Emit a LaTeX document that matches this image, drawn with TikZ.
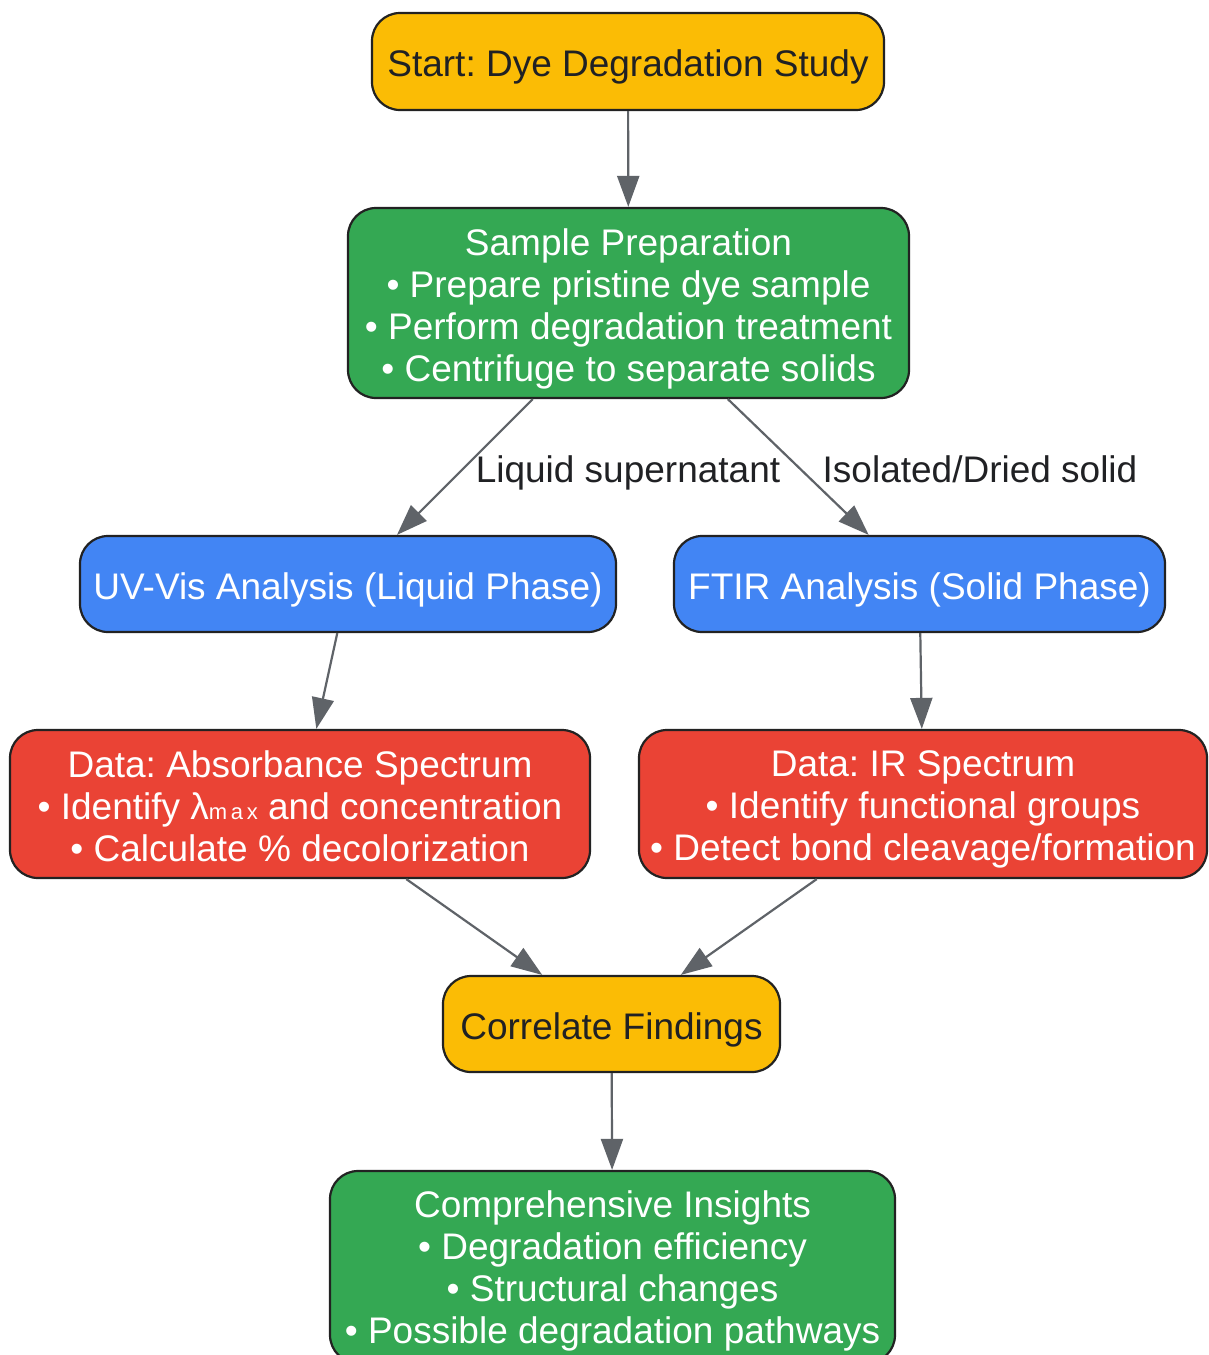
\documentclass[tikz,border=0pt]{standalone}
\usepackage{fontspec}
\setmainfont{Liberation Sans}
\usetikzlibrary{arrows.meta}
\frenchspacing
\definecolor{cyellow}{HTML}{FBBC05}
\definecolor{cgreen}{HTML}{34A853}
\definecolor{cblue}{HTML}{4285F4}
\definecolor{cred}{HTML}{EA4335}
\definecolor{cborder}{HTML}{222222}
\definecolor{ctext}{HTML}{202124}
\definecolor{cedge}{HTML}{5F6368}
\begin{document}
\begin{tikzpicture}[x=1pt,y=-1pt,
  box/.style={rectangle, rounded corners=28pt, draw=cborder, line width=2.2pt, inner sep=0pt},
  yel/.style={box, fill=cyellow},
  grn/.style={box, fill=cgreen},
  blu/.style={box, fill=cblue},
  rd/.style={box, fill=cred},
  txt/.style={align=center, inner sep=0pt, yshift=-5.5pt, font=\fontsize{37}{42}\selectfont},
  wtxt/.style={txt, text=white},
  dtxt/.style={txt, text=ctext},
  edge/.style={draw=cedge, line width=2.2pt, -{Triangle[length=31pt,width=22pt]}},
  elabel/.style={text=ctext, font=\fontsize{37}{42}\selectfont, inner sep=0pt,
    text height=27pt, text depth=8pt}]
\fill[white] (0,0) rectangle (1208,1355);
\useasboundingbox (0,0) rectangle (1208,1355);

\node[yel, minimum width=512pt, minimum height=97pt] (start) at (628,61.5) {};
\node[grn, minimum width=561pt, minimum height=190pt] (sample) at (628.5,303) {};
\node[blu, minimum width=536pt, minimum height=96pt] (uv) at (348,584) {};
\node[blu, minimum width=491pt, minimum height=96pt] (ftir) at (919.5,584) {};
\node[rd, minimum width=580pt, minimum height=148pt] (abs) at (300,804) {};
\node[rd, minimum width=568pt, minimum height=148pt] (ir) at (923,804) {};
\node[yel, minimum width=337pt, minimum height=96pt] (corr) at (611.5,1024) {};
\node[grn, minimum width=565pt, minimum height=192pt] (ins) at (612.5,1267) {};

\node[dtxt] (tstart) at (start.center) {Start: Dye Degradation Study};
\node[wtxt] (tsample) at (sample.center)
  {Sample Preparation\\ • Prepare pristine dye sample\\ • Perform degradation treatment\\ • Centrifuge to separate solids};
\node[wtxt] (tuv) at (uv.center) {UV-Vis Analysis (Liquid Phase)};
\node[wtxt] (tftir) at (ftir.center) {FTIR Analysis (Solid Phase)};
\node[wtxt, yshift=3pt] (tabs) at (abs.center)
  {Data: Absorbance Spectrum\\ • Identify λ{\fontsize{22}{22}\selectfont m\,a\,x} and concentration\\ • Calculate \% decolorization};
\node[wtxt] (tir) at (ir.center)
  {Data: IR Spectrum\\ • Identify functional groups\\ • Detect bond cleavage/formation};
\node[dtxt] (tcorr) at (corr.center) {Correlate Findings};
\node[wtxt, yshift=2pt] (tins) at (ins.center)
  {Comprehensive Insights\\ • Degradation efficiency\\ • Structural changes\\ • Possible degradation pathways};

\draw[edge] (start) -- (sample);
\draw[edge] (sample) -- (uv);
\draw[edge] (sample) -- (ftir);
\draw[edge] (uv) -- (abs);
\draw[edge] (ftir) -- (ir);
\draw[edge] (abs) -- (corr);
\draw[edge] (ir) -- (corr);
\draw[edge] (corr) -- (ins);

\node[elabel] (l1) at (628,473) {Liquid supernatant};
\node[elabel] (l2) at (980,473) {Isolated/Dried solid};
\end{tikzpicture}
\end{document}
